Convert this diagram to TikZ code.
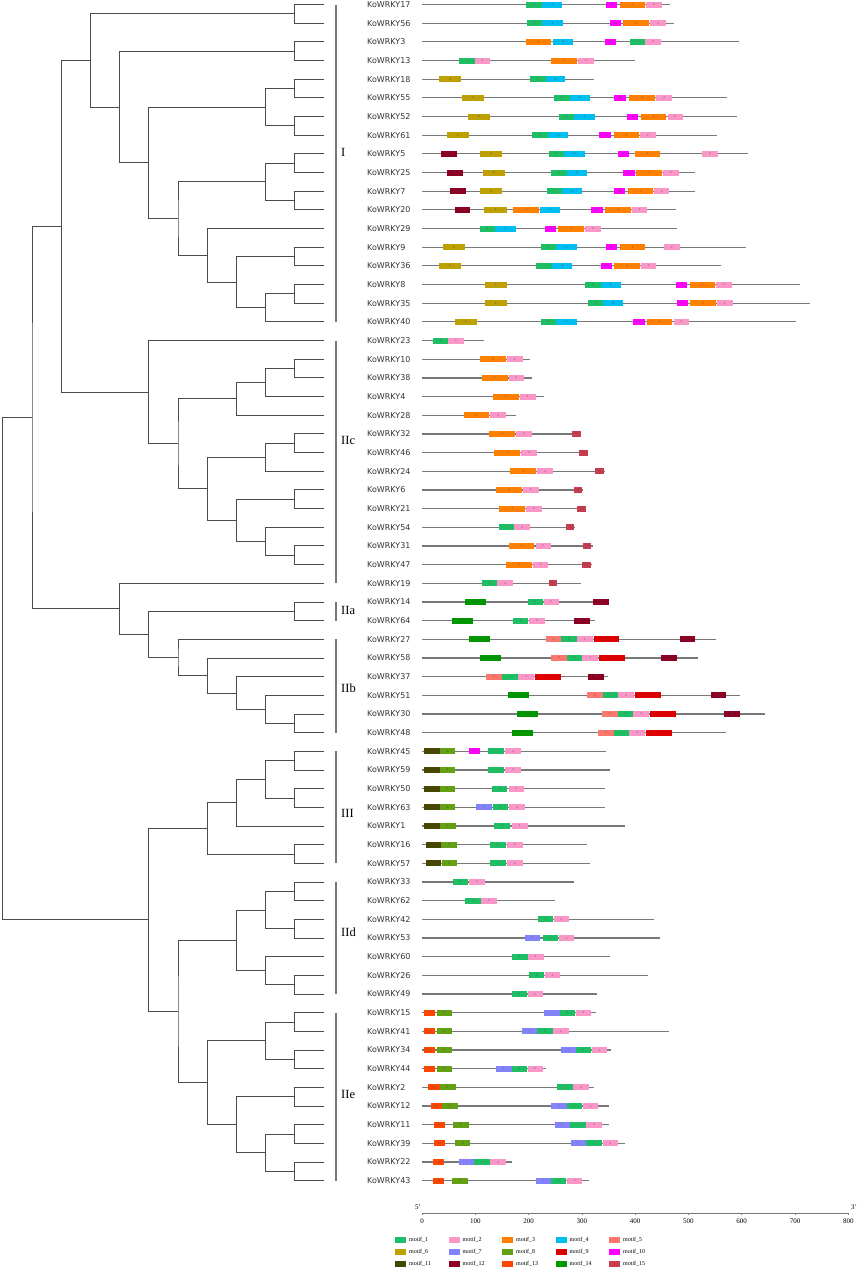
\documentclass[tikz,border=0pt]{standalone}
\usepackage{fontspec}
\setmainfont{Liberation Serif}
\newfontfamily\genefont{DejaVu Sans}
\usetikzlibrary{calc}

% motif colours (legend order)
\definecolor{m1}{RGB}{30,190,100}
\definecolor{m2}{RGB}{250,150,200}
\definecolor{m3}{RGB}{255,128,0}
\definecolor{m4}{RGB}{0,190,240}
\definecolor{m5}{RGB}{250,120,110}
\definecolor{m6}{RGB}{190,160,0}
\definecolor{m7}{RGB}{130,130,250}
\definecolor{m8}{RGB}{100,160,20}
\definecolor{m9}{RGB}{220,0,0}
\definecolor{m10}{RGB}{255,0,255}
\definecolor{m11}{RGB}{70,70,0}
\definecolor{m12}{RGB}{140,0,35}
\definecolor{m13}{RGB}{255,70,0}
\definecolor{m14}{RGB}{0,150,0}
\definecolor{m15}{RGB}{200,60,80}
\definecolor{treegray}{RGB}{75,75,75}
\definecolor{seqgray}{RGB}{120,120,120}

\tikzset{
  branch/.style={treegray, line width=0.9pt},
  bar/.style={seqgray, line width=1.6pt},
  seq/.style={seqgray, line width=1.2pt},
  gname/.style={anchor=west, inner sep=0pt, font=\genefont\fontsize{8}{9}\selectfont, text=black!80},
  grp/.style={anchor=west, inner sep=0pt, font=\fontsize{12.5}{13}\selectfont},
  motif/.style={inner sep=0pt, minimum height=6pt, text=black!70, font=\fontsize{3}{3}\selectfont},
  tick/.style={inner sep=0pt, font=\fontsize{7}{8}\selectfont},
  key/.style={anchor=west, inner sep=0pt, font=\fontsize{6}{7}\selectfont},
}

\def\dy{18.67}   % row pitch
\def\aa{0.5329pt} % one residue

% one gene: row, number, length, motif list start/end/motif
\newcommand\gene[4]{%
  \coordinate (t#2) at (324,{4.5+\dy*#1});
  \node[gname] (n#2) at (367,{4.5+\dy*#1}) {KoWRKY#2};
  \begin{scope}[shift={(422,{4.5+\dy*#1})}, x=\aa]
    \draw[seq] (0,0) -- (#3,0);
    \foreach \s/\e/\m in {#4}
      \node[motif, fill=m\m, minimum width={(\e-\s)*0.5329}] at ({(\s+\e)/2},0) {\m};
  \end{scope}
}

% one clade: name, level, two children
\newcommand\clade[4]{%
  \path ($(#3)!0.5!(#4)$) coordinate (mid#1);
  \coordinate (#1) at (L#2 |- mid#1);
  \draw[branch] (#3) -| (#1) |- (#4);
}

% group bar: first row, last row, label y, label
\newcommand\group[4]{%
  \draw[bar] (336,{4.5+\dy*#1}) -- (336,{4.5+\dy*#2});
  \node[grp] (grp#4) at (341,#3) {#4};
}

\begin{document}
\begin{tikzpicture}[x=1pt, y=-1pt]
\useasboundingbox (0,0) rectangle (858,1270);

% tree levels
\foreach \k in {1,...,11}
  \coordinate (L\k) at ({324-29.2*\k},0);

% genes with motifs
\gene{0}{17}{466}{196/225/1,225/263/4,345/366/10,371/418/3,421/450/2}
\gene{1}{56}{473}{197/226/1,226/264/4,352/373/10,378/426/3,428/457/2}
\gene{2}{3}{595}{195/242/3,246/283/4,343/364/10,391/419/1,419/449/2}
\gene{3}{13}{399}{70/99/1,99/128/2,242/291/3,293/322/2}
\gene{4}{18}{322}{32/74/6,202/232/1,232/269/4}
\gene{5}{55}{573}{75/116/6,247/277/1,277/315/4,361/382/10,389/437/3,440/469/2}
\gene{6}{52}{591}{86/127/6,257/286/1,286/324/4,384/405/10,411/458/3,461/489/2}
\gene{7}{61}{553}{47/88/6,207/236/1,236/274/4,333/354/10,360/407/3,409/439/2}
\gene{8}{5}{611}{36/65/12,109/151/6,238/267/1,267/305/4,367/389/10,399/447/3,526/555/2}
\gene{9}{25}{513}{47/76/12,114/156/6,243/272/1,272/310/4,377/399/10,402/451/3,453/482/2}
\gene{10}{7}{513}{53/82/12,109/151/6,234/262/1,262/301/4,360/381/10,386/433/3,436/464/2}
\gene{11}{20}{476}{61/90/12,117/159/6,171/219/3,221/259/4,318/339/10,344/392/3,394/423/2}
\gene{12}{29}{478}{109/137/1,137/176/4,231/252/10,256/304/3,306/335/2}
\gene{13}{9}{608}{40/81/6,223/252/1,252/290/4,345/366/10,371/419/3,454/484/2}
\gene{14}{36}{561}{32/73/6,214/244/1,244/282/4,336/357/10,360/409/3,411/440/2}
\gene{15}{8}{710}{118/159/6,306/335/1,335/373/4,477/498/10,502/549/3,552/581/2}
\gene{16}{35}{729}{118/159/6,311/340/1,340/378/4,478/499/10,503/551/3,553/583/2}
\gene{17}{40}{701}{62/103/6,223/252/1,252/290/4,396/418/10,422/469/3,472/501/2}
\gene{18}{23}{116}{20/49/1,49/78/2}
\gene{19}{10}{203}{109/158/3,159/189/2}
\gene{20}{38}{206}{112/161/3,163/191/2}
\gene{21}{4}{229}{133/182/3,183/213/2}
\gene{22}{28}{176}{78/126/3,128/158/2}
\gene{23}{32}{298}{126/175/3,176/206/2,282/298/15}
\gene{24}{46}{311}{136/184/3,186/216/2,295/311/15}
\gene{25}{24}{344}{166/214/3,216/246/2,325/341/15}
\gene{26}{6}{302}{139/188/3,189/219/2,286/301/15}
\gene{27}{21}{307}{145/194/3,196/225/2,291/307/15}
\gene{28}{54}{288}{144/173/1,173/203/2,270/286/15}
\gene{29}{31}{321}{163/211/3,213/242/2,303/318/15}
\gene{30}{47}{319}{158/206/3,208/237/2,301/317/15}
\gene{31}{19}{298}{112/141/1,141/171/2,239/254/15}
\gene{32}{14}{351}{81/121/14,198/227/1,228/257/2,321/350/12}
\gene{33}{64}{325}{56/96/14,171/199/1,201/230/2,286/315/12}
\gene{34}{27}{551}{88/128/14,233/261/5,261/290/1,290/320/2,322/370/9,484/513/12}
\gene{35}{58}{517}{108/148/14,243/272/5,272/301/1,301/331/2,332/380/9,449/478/12}
\gene{36}{37}{349}{121/150/5,151/180/1,181/211/2,212/261/9,312/341/12}
\gene{37}{51}{597}{161/201/14,310/339/5,339/368/1,368/398/2,399/448/9,542/571/12}
\gene{38}{30}{643}{178/218/14,338/367/5,367/396/1,396/426/2,428/476/9,567/596/12}
\gene{39}{48}{571}{169/208/14,331/360/5,360/389/1,389/419/2,421/469/9}
\gene{40}{45}{345}{3/33/11,34/62/8,88/109/10,124/154/1,156/186/2}
\gene{41}{59}{353}{3/33/11,34/62/8,124/154/1,156/186/2}
\gene{42}{50}{343}{3/33/11,34/62/8,131/160/1,163/191/2}
\gene{43}{63}{343}{3/33/11,34/62/8,102/132/7,133/162/1,164/194/2}
\gene{44}{1}{380}{3/33/11,34/63/8,136/166/1,168/198/2}
\gene{45}{16}{310}{7/36/11,36/65/8,128/157/1,159/189/2}
\gene{46}{57}{315}{7/36/11,37/66/8,128/158/1,160/189/2}
\gene{47}{33}{286}{58/87/1,88/118/2}
\gene{48}{62}{249}{81/111/1,111/140/2}
\gene{49}{42}{436}{217/246/1,247/276/2}
\gene{50}{53}{446}{193/222/7,227/256/1,257/286/2}
\gene{51}{60}{353}{169/198/1,198/228/2}
\gene{52}{26}{424}{201/229/1,231/259/2}
\gene{53}{49}{328}{168/197/1,198/227/2}
\gene{54}{15}{326}{3/24/13,28/57/8,229/259/7,259/288/1,289/318/2}
\gene{55}{41}{464}{3/24/13,28/57/8,187/216/7,216/245/1,246/275/2}
\gene{56}{34}{355}{3/24/13,28/57/8,260/289/7,289/318/1,319/348/2}
\gene{57}{44}{233}{3/24/13,28/57/8,138/168/7,168/197/1,198/227/2}
\gene{58}{2}{322}{11/33/13,34/63/8,254/283/1,284/313/2}
\gene{59}{12}{351}{16/37/13,38/67/8,243/272/7,272/301/1,302/331/2}
\gene{60}{11}{350}{22/43/13,59/88/8,249/278/7,278/308/1,308/338/2}
\gene{61}{39}{381}{22/43/13,62/91/8,279/308/7,308/338/1,339/368/2}
\gene{62}{22}{169}{21/42/13,69/98/7,98/128/1,128/158/2}
\gene{63}{43}{314}{21/42/13,57/86/8,213/242/7,242/271/1,272/301/2}

% group I
\clade{a1}{1}{t17}{t56}
\clade{a2}{1}{t3}{t13}
\clade{a3}{1}{t18}{t55}
\clade{a4}{1}{t52}{t61}
\clade{a5}{2}{a3}{a4}
\clade{a6}{1}{t5}{t25}
\clade{a7}{1}{t7}{t20}
\clade{a8}{2}{a6}{a7}
\clade{a9}{1}{t9}{t36}
\clade{a10}{1}{t8}{t35}
\clade{a11}{2}{a10}{t40}
\clade{a12}{3}{a9}{a11}
\clade{a13}{4}{t29}{a12}
\clade{a14}{5}{a8}{a13}
\clade{a15}{6}{a5}{a14}
\clade{a16}{7}{a2}{a15}
\clade{a17}{8}{a1}{a16}

% group IIc
\clade{c1}{1}{t10}{t38}
\clade{c2}{2}{c1}{t4}
\clade{c3}{3}{c2}{t28}
\clade{c4}{1}{t32}{t46}
\clade{c5}{2}{c4}{t24}
\clade{c6}{1}{t6}{t21}
\clade{c7}{1}{t31}{t47}
\clade{c8}{2}{t54}{c7}
\clade{c9}{3}{c6}{c8}
\clade{c10}{4}{c5}{c9}
\clade{c11}{5}{c3}{c10}
\clade{c12}{6}{t23}{c11}
\clade{r1}{9}{a17}{c12}

% groups IIa and IIb
\clade{b1}{1}{t14}{t64}
\clade{b2}{1}{t30}{t48}
\clade{b3}{2}{t51}{b2}
\clade{b4}{3}{t37}{b3}
\clade{b5}{4}{t58}{b4}
\clade{b6}{5}{t27}{b5}
\clade{b7}{6}{b1}{b6}
\clade{b8}{7}{t19}{b7}
\clade{r2}{10}{r1}{b8}

% group III
\clade{d1}{1}{t45}{t59}
\clade{d2}{1}{t50}{t63}
\clade{d3}{2}{d1}{d2}
\clade{d4}{3}{d3}{t1}
\clade{d5}{1}{t16}{t57}
\clade{d6}{4}{d4}{d5}

% group IId
\clade{e1}{1}{t33}{t62}
\clade{e2}{1}{t42}{t53}
\clade{e3}{2}{e1}{e2}
\clade{e4}{1}{t26}{t49}
\clade{e5}{2}{t60}{e4}
\clade{e6}{3}{e3}{e5}

% group IIe
\clade{f1}{1}{t15}{t41}
\clade{f2}{1}{t34}{t44}
\clade{f3}{2}{f1}{f2}
\clade{f4}{1}{t2}{t12}
\clade{f5}{1}{t11}{t39}
\clade{f6}{1}{t22}{t43}
\clade{f7}{2}{f5}{f6}
\clade{f8}{3}{f4}{f7}
\clade{f9}{4}{f3}{f8}
\clade{g1}{5}{e6}{f9}
\clade{g2}{6}{d6}{g1}
\clade{root}{11}{r2}{g2}

% group bars
\group{0}{17}{152}{I}
\group{18}{31}{440}{IIc}
\group{32}{33}{610}{IIa}
\group{34}{39}{688}{IIb}
\group{40}{46}{813}{III}
\group{47}{53}{932}{IId}
\group{54}{63}{1094}{IIe}

% scale
\begin{scope}[shift={(422,1213)}, x=\aa]
  \draw[seq, line width=0.8pt] (0,0) -- (800,0);
  \foreach \t in {0,100,...,800} {
    \draw[seq, line width=0.6pt] (\t,0) -- (\t,2);
    \node[tick] (tk\t) at (\t,8) {\t};
  }
\end{scope}
\node[tick] (five) at (418,1207) {5'};
\node[tick] (three) at (854,1207) {3'};

% legend
\foreach \k in {1,...,15} {
  \pgfmathtruncatemacro\col{mod(\k-1,5)}
  \pgfmathtruncatemacro\row{int((\k-1)/5)}
  \fill[m\k] ({395+53.5*\col},{1237+12*\row}) rectangle ++(11,6);
  \node[key] (key\k) at ({409+53.5*\col},{1240+12*\row}) {motif\_\k};
}

\end{tikzpicture}
\end{document}
